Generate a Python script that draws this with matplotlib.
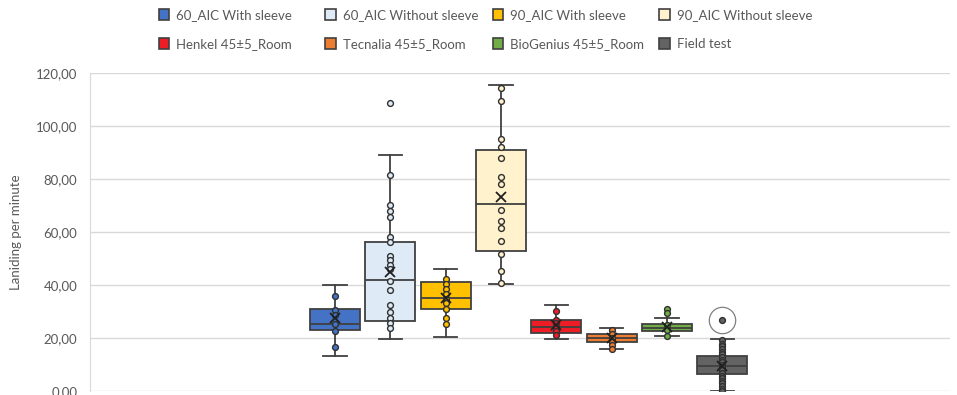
import matplotlib
matplotlib.use('Agg')
import matplotlib.pyplot as plt
from matplotlib.patches import Patch
from matplotlib.ticker import FuncFormatter

plt.rcParams['font.family'] = ['Lato', 'DejaVu Sans']

series = ["60_AIC With sleeve", "60_AIC Without sleeve", "90_AIC With sleeve",
          "90_AIC Without sleeve", "Henkel 45\u00b15_Room", "Tecnalia 45\u00b15_Room",
          "BioGenius 45\u00b15_Room", "Field test"]
colors = ["#4472C4", "#DEEBF7", "#FFC000", "#FFF2CC",
          "#EE1C25", "#ED7D31", "#70AD47", "#636363"]

# box statistics
q1 = [22.9, 26.4, 31.1, 52.8, 21.9, 18.6, 22.6, 6.3]
med = [25.2, 41.8, 35.3, 70.7, 24.3, 20.0, 23.9, 9.4]
q3 = [30.9, 56.3, 41.0, 91.0, 26.7, 21.4, 25.3, 13.2]
whislo = [13.1, 19.7, 20.5, 40.3, 19.7, 15.7, 20.9, 0.0]
whishi = [39.9, 88.9, 45.9, 115.5, 32.5, 23.7, 27.5, 19.6]
means = [27.4, 44.8, 35.3, 73.3, 25.0, 20.0, 24.0, 9.6]

# individual points
pts_60_with = [36.0, 30.6, 28.7, 25.2, 22.8, 16.5]
pts_60_without = [108.6, 81.5, 70.4, 68.0, 65.7, 58.0, 56.1, 50.8, 49.3, 47.7, 46.0,
                  41.5, 38.2, 32.5, 29.7, 27.4, 25.8, 23.8]
pts_90_with = [42.1, 40.3, 38.4, 36.5, 34.6, 33.4, 30.8, 27.4, 25.4]
pts_90_without = [114.5, 109.6, 95.0, 92.0, 88.1, 80.6, 78.0, 68.3, 64.3, 61.6,
                  56.6, 51.7, 45.3, 40.6]
pts_henkel = [30.2, 26.8, 25.5, 24.3, 22.8, 21.2]
pts_tecnalia = [23.0, 21.4, 20.0, 18.6, 17.2, 16.0]
pts_biogenius = [31.1, 29.6, 24.9, 23.0, 20.9]
pts_field = [26.8, 19.2, 17.8, 16.9, 15.9, 14.8, 13.9, 12.9, 11.8, 10.9, 9.8, 8.9,
             7.9, 6.8, 5.8, 4.9, 3.8, 2.9, 1.9, 0.8, 0.0]
points = [pts_60_with, pts_60_without, pts_90_with, pts_90_without,
          pts_henkel, pts_tecnalia, pts_biogenius, pts_field]
circled = 26.8  # highlighted field test outlier

fig = plt.figure(figsize=(9.57, 3.95), dpi=100)
ax = fig.add_axes([0.094, 0.01, 0.899, 0.805])

positions = list(range(1, len(series) + 1))
stats = []
for i in range(len(series)):
    stats.append({"q1": q1[i], "med": med[i], "q3": q3[i], "whislo": whislo[i],
                  "whishi": whishi[i], "mean": means[i], "fliers": []})

edge = "#404040"
bp = ax.bxp(stats, positions=positions, widths=0.9, capwidths=0.42,
            patch_artist=True, showmeans=False, showfliers=False,
            boxprops=dict(edgecolor=edge, linewidth=1.3),
            medianprops=dict(color=edge, linewidth=1.3),
            whiskerprops=dict(color=edge, linewidth=1.3),
            capprops=dict(color=edge, linewidth=1.3), zorder=3)
for box, c in zip(bp["boxes"], colors):
    box.set_facecolor(c)

for x, pts, c in zip(positions, points, colors):
    ax.plot([x] * len(pts), pts, linestyle="none", marker="o", markersize=4.2,
            markerfacecolor=c, markeredgecolor="#303030", markeredgewidth=1.0, zorder=4)
ax.plot(positions, means, linestyle="none", marker="x", markersize=6.5,
        color="#202020", markeredgewidth=1.3, zorder=5)
ax.plot([positions[-1]], [circled], linestyle="none", marker="o", markersize=19,
        markerfacecolor="none", markeredgecolor="#808080", markeredgewidth=0.9, zorder=5)

ax.set_ylim(0, 120)
ax.set_xlim(-3.43, 12.12)
ax.set_yticks(range(0, 121, 20))
ax.yaxis.set_major_formatter(FuncFormatter(lambda v, p: f"{v:.2f}".replace(".", ",")))
ax.set_xticks([])
ax.grid(axis="y", color="#D9D9D9", linewidth=1.0)
ax.set_axisbelow(True)
for s in ["top", "right", "bottom"]:
    ax.spines[s].set_visible(False)
ax.spines["left"].set_color("#D9D9D9")
ax.tick_params(axis="y", length=0, labelsize=9.5, labelcolor="#595959", pad=9)
ax.set_ylabel("Laniding per minute", fontsize=9.5, color="#595959", labelpad=10)

# legend: 2 rows x 4 evenly spaced columns (row-wise order)
col_x = [0.155, 0.329, 0.504, 0.678]
for j, x0 in enumerate(col_x):
    idx = [j, j + 4]
    handles = [Patch(facecolor=colors[k], edgecolor=edge, linewidth=1.2) for k in idx]
    fig.legend(handles, [series[k] for k in idx], loc="upper left",
               bbox_to_anchor=(x0, 1.005), ncol=1, frameon=False, fontsize=9.5,
               labelcolor="#595959", handlelength=0.8, handleheight=0.9,
               handletextpad=0.5, labelspacing=1.3, borderpad=0.3)

fig.savefig("out.png", dpi=100)
